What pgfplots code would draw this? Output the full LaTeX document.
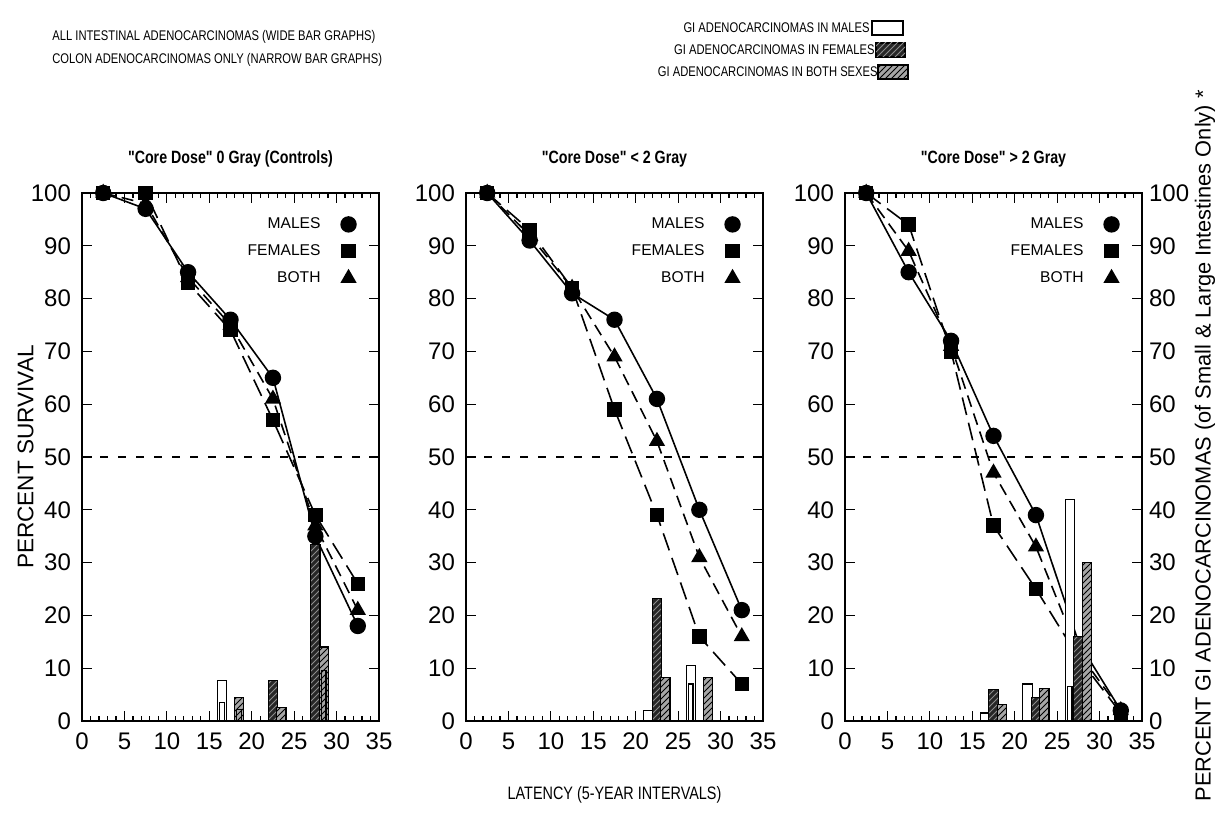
\documentclass[border=0pt]{standalone}
\usepackage{fontspec}
\setmainfont{Liberation Sans}
\newfontfamily\narrow{Liberation Sans}[FakeStretch=0.8]
\usepackage{pgfplots}
\pgfplotsset{compat=1.18}
\usetikzlibrary{patterns}

\tikzset{
  malebar/.style={draw=black, line width=0.6pt, fill=white},
  femalebar/.style={draw=black, line width=0.6pt, fill=black!85,
    postaction={pattern=north east lines, pattern color=black!45}},
  bothbar/.style={draw=black, line width=0.6pt, fill=black!35,
    postaction={pattern=north east lines, pattern color=black}},
}

\pgfplotsset{
  panel/.style={
    scale only axis, width=148.5pt, height=264pt,
    xmin=0, xmax=35, ymin=0, ymax=100,
    xtick={0,5,...,35}, ytick={0,10,...,100},
    minor x tick num=4,
    tick align=inside,
    major tick length=5pt, minor tick length=2.5pt,
    every tick/.style={black, line width=0.6pt},
    axis line style={line width=0.8pt},
    tick label style={font=\fontsize{12}{14}\selectfont},
    xticklabel style={yshift=-2.5pt},
    yticklabel style={xshift=-2pt},
    /pgf/number format/assume math mode=true,
    title style={at={(0.5,1)}, anchor=center, yshift=11pt,
      font=\narrow\bfseries\fontsize{8.9}{10}\selectfont},
    legend style={draw=none, fill=none, at={(axis cs:32.4,96.2)},
      anchor=north east, inner sep=0pt, row sep=2.5pt,
      font=\fontsize{7.8}{9}\selectfont},
    legend plot pos=right,
    legend cell align=right,
    legend image code/.code={\path[draw=none, fill=none] (0pt,-3pt) rectangle (16pt,3pt);
      \draw[##1, only marks] plot coordinates {(12pt,0pt)};},
    clip=false,
  },
  males/.style={solid, line width=0.8pt, mark=*, mark size=3.7pt,
    mark options={solid, fill=black}},
  females/.style={dash pattern=on 9pt off 4pt, line width=0.8pt, mark=square*,
    mark size=3.2pt, mark options={solid, fill=black}},
  both/.style={dash pattern=on 6pt off 3.5pt, line width=0.8pt, mark=triangle*,
    mark size=3.9pt, mark options={solid, fill=black}},
  fifty/.style={forget plot, dash pattern=on 4pt off 5pt, line width=0.7pt},
  bars/.style={forget plot, ybar, bar shift=0pt},
  wideM/.style={bars, bar width=1.1, malebar},
  wideF/.style={bars, bar width=1.1, femalebar},
  wideB/.style={bars, bar width=1.1, bothbar},
  narrowM/.style={bars, bar width=0.5, malebar},
  narrowB/.style={bars, bar width=0.5, bothbar},
}

\begin{document}
\begin{tikzpicture}
\path[use as bounding box] (0,0) rectangle (610pt,407pt);

% key above the panels
\begin{scope}[every node/.style={inner sep=0pt, font=\narrow\fontsize{7}{8}\selectfont}]
\node[anchor=west] at (26pt,388.5pt) {ALL INTESTINAL ADENOCARCINOMAS (WIDE BAR GRAPHS)};
\node[anchor=west] at (26pt,377pt) {COLON ADENOCARCINOMAS ONLY (NARROW BAR GRAPHS)};
\node[anchor=east] at (435pt,393pt) {GI ADENOCARCINOMAS IN MALES};
\draw[malebar] (436pt,389.5pt) rectangle (451.5pt,396.5pt);
\node[anchor=east] at (437.5pt,382pt) {GI ADENOCARCINOMAS IN FEMALES};
\draw[femalebar] (438pt,378.5pt) rectangle (452.5pt,385.5pt);
\node[anchor=east] at (439pt,371pt) {GI ADENOCARCINOMAS IN BOTH SEXES};
\draw[bothbar] (439pt,367.5pt) rectangle (454pt,374.5pt);
\end{scope}

% controls
\begin{axis}[panel, at={(41pt,46.5pt)},
  title={"Core Dose" 0 Gray (Controls)},
  ylabel={PERCENT SURVIVAL},
  ylabel style={at={(axis description cs:-0.19,0.5)}, anchor=center,
    font=\fontsize{11.3}{13}\selectfont}]
\addplot[males] coordinates {(2.5,100)(7.5,97)(12.5,85)(17.5,76)(22.5,65)(27.5,35)(32.5,18)};
\addplot[females] coordinates {(2.5,100)(7.5,100)(12.5,83)(17.5,74)(22.5,57)(27.5,39)(32.5,26)};
\addplot[both] coordinates {(2.5,100)(7.5,98)(12.5,84)(17.5,75)(22.5,61)(27.5,37)(32.5,21)};
\legend{MALES, FEMALES, BOTH}
\addplot[fifty] coordinates {(0,50)(35,50)};
\addplot[wideM] coordinates {(16.5,7.6)};
\addplot[wideF] coordinates {(22.5,7.6)(27.5,33.5)};
\addplot[wideB] coordinates {(18.5,4.5)(23.5,2.5)(28.5,14)};
\addplot[narrowM] coordinates {(16.5,3.5)};
\addplot[narrowB] coordinates {(18.5,2.2)(28.5,9.5)};
\end{axis}

% < 2 Gray
\begin{axis}[panel, at={(233pt,46.5pt)},
  title={"Core Dose" < 2 Gray},
  xlabel={LATENCY (5-YEAR INTERVALS)},
  xlabel style={at={(axis description cs:0.5,-0.14)}, anchor=center,
    font=\narrow\fontsize{9}{10}\selectfont}]
\addplot[males] coordinates {(2.5,100)(7.5,91)(12.5,81)(17.5,76)(22.5,61)(27.5,40)(32.5,21)};
\addplot[females] coordinates {(2.5,100)(7.5,93)(12.5,82)(17.5,59)(22.5,39)(27.5,16)(32.5,7)};
\addplot[both] coordinates {(2.5,100)(7.5,92)(12.5,82)(17.5,69)(22.5,53)(27.5,31)(32.5,16)};
\legend{MALES, FEMALES, BOTH}
\addplot[fifty] coordinates {(0,50)(35,50)};
\addplot[wideM] coordinates {(21.5,2)(26.5,10.5)};
\addplot[wideF] coordinates {(22.5,23.2)};
\addplot[wideB] coordinates {(23.5,8.3)(28.5,8.3)};
\addplot[narrowM] coordinates {(26.5,7)};
\end{axis}

% > 2 Gray: survival curves (the 27.5 points sit behind the bars)
\begin{axis}[panel, at={(422.5pt,46.5pt)},
  title={"Core Dose" > 2 Gray}]
\addplot[males, mark indices={1,2,3,4,5,7}] coordinates {(2.5,100)(7.5,85)(12.5,72)(17.5,54)(22.5,39)(27.5,15)(32.5,2)};
\addplot[females, mark indices={1,2,3,4,5,7}] coordinates {(2.5,100)(7.5,94)(12.5,70)(17.5,37)(22.5,25)(27.5,12)(32.5,1.5)};
\addplot[both, mark indices={1,2,3,4,5,7}] coordinates {(2.5,100)(7.5,89)(12.5,71)(17.5,47)(22.5,33)(27.5,13)(32.5,2)};
\legend{MALES, FEMALES, BOTH}
\addplot[fifty] coordinates {(0,50)(35,50)};
\end{axis}

% > 2 Gray: bars on top, with the right-hand scale
\begin{axis}[panel, at={(422.5pt,46.5pt)},
  axis x line=none, axis y line*=right,
  yticklabel style={xshift=2pt},
  ylabel={PERCENT GI ADENOCARCINOMAS (of Small \& Large Intestines Only) *},
  ylabel style={at={(axis description cs:1.212,0.521)}, anchor=center,
    font=\fontsize{10.9}{12}\selectfont}]
\addplot[wideM] coordinates {(16.5,1.5)(21.5,7)(26.5,42)};
\addplot[wideF] coordinates {(17.5,6)(22.5,4.5)(27.5,16)};
\addplot[wideB] coordinates {(18.5,3.2)(23.5,6.2)(28.5,30)};
\addplot[narrowM] coordinates {(26.5,6.5)};
\end{axis}
\end{tikzpicture}
\end{document}
